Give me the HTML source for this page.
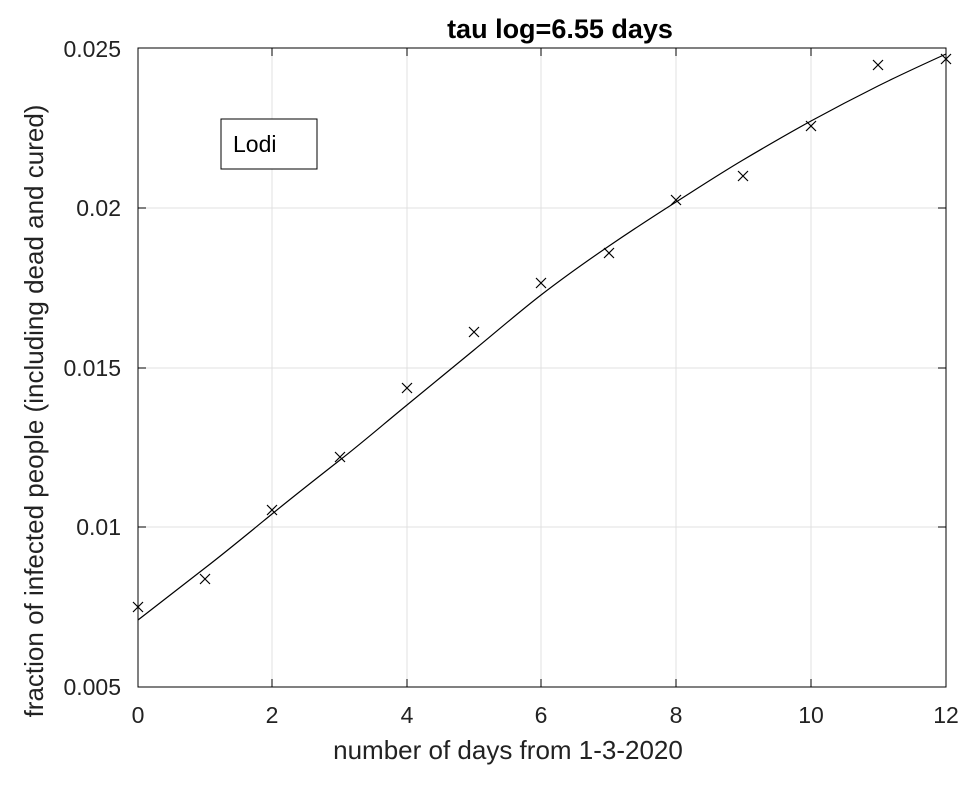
<!DOCTYPE html>
<html><head><meta charset="utf-8"><style>
body{margin:0;background:#fff;}
svg{display:block;font-family:"Liberation Sans",sans-serif;}
</style></head><body>
<svg width="978" height="794" viewBox="0 0 978 794" xmlns="http://www.w3.org/2000/svg">
<rect width="978" height="794" fill="#fff"/>
<g stroke="#e0e0e0" stroke-width="1">
<line x1="272" y1="48" x2="272" y2="687"/><line x1="407" y1="48" x2="407" y2="687"/>
<line x1="541" y1="48" x2="541" y2="687"/><line x1="676" y1="48" x2="676" y2="687"/>
<line x1="811" y1="48" x2="811" y2="687"/>
<line x1="138" y1="208" x2="946" y2="208"/><line x1="138" y1="368" x2="946" y2="368"/>
<line x1="138" y1="527" x2="946" y2="527"/>
</g>
<rect x="138" y="48" width="808" height="639" fill="none" stroke="#000" stroke-width="1"/>
<g stroke="#000" stroke-width="1">
<line x1="272" y1="687" x2="272" y2="679"/><line x1="407" y1="687" x2="407" y2="679"/>
<line x1="541" y1="687" x2="541" y2="679"/><line x1="676" y1="687" x2="676" y2="679"/>
<line x1="811" y1="687" x2="811" y2="679"/>
<line x1="272" y1="48" x2="272" y2="56"/><line x1="407" y1="48" x2="407" y2="56"/>
<line x1="541" y1="48" x2="541" y2="56"/><line x1="676" y1="48" x2="676" y2="56"/>
<line x1="811" y1="48" x2="811" y2="56"/>
<line x1="138" y1="208" x2="146" y2="208"/><line x1="138" y1="368" x2="146" y2="368"/><line x1="138" y1="527" x2="146" y2="527"/>
<line x1="946" y1="208" x2="938" y2="208"/><line x1="946" y1="368" x2="938" y2="368"/><line x1="946" y1="527" x2="938" y2="527"/>
</g>
<g font-size="23" fill="#222" text-anchor="middle">
<text x="138" y="723">0</text><text x="272" y="723">2</text><text x="407" y="723">4</text>
<text x="541" y="723">6</text><text x="676" y="723">8</text><text x="811" y="723">10</text><text x="946" y="723">12</text>
</g>
<g font-size="23" fill="#222" text-anchor="end">
<text x="121" y="57">0.025</text><text x="121" y="216">0.02</text><text x="121" y="376">0.015</text>
<text x="121" y="535">0.01</text><text x="121" y="695">0.005</text>
</g>
<text x="508" y="759" font-size="26" fill="#222" text-anchor="middle">number of days from 1-3-2020</text>
<text transform="translate(43,411) rotate(-90)" font-size="26" fill="#222" text-anchor="middle">fraction of infected people (including dead and cured)</text>
<text x="560" y="38" font-size="27" font-weight="bold" text-anchor="middle">tau log=6.55 days</text>
<path d="M138,620 C160,603 183,585 205,568 S250,532 272,514 S317,478 340,460 S385,423 407,405 S452,368 474,350 S519,312 541,295 S587,261 609,246 S654,216 676,202 S721,173 743,160 S789,133 811,121 S856,97 878,86 S924,64 946,54" fill="none" stroke="#000" stroke-width="1.2"/>
<g stroke="#000" stroke-width="1.2">
<path d="M133,602l10,10M143,602l-10,10"/>
<path d="M200,574l10,10M210,574l-10,10"/>
<path d="M267,505l10,10M277,505l-10,10"/>
<path d="M335,452l10,10M345,452l-10,10"/>
<path d="M402,383l10,10M412,383l-10,10"/>
<path d="M469,327l10,10M479,327l-10,10"/>
<path d="M536,278l10,10M546,278l-10,10"/>
<path d="M604,248l10,10M614,248l-10,10"/>
<path d="M671,195l10,10M681,195l-10,10"/>
<path d="M738,171l10,10M748,171l-10,10"/>
<path d="M806,121l10,10M816,121l-10,10"/>
<path d="M873,60l10,10M883,60l-10,10"/>
<path d="M941,54l10,10M951,54l-10,10"/>
</g>
<rect x="221" y="119" width="96" height="50" fill="#fff" stroke="#000" stroke-width="1"/>
<text x="233" y="152" font-size="23" fill="#000">Lodi</text>
</svg>
</body></html>
